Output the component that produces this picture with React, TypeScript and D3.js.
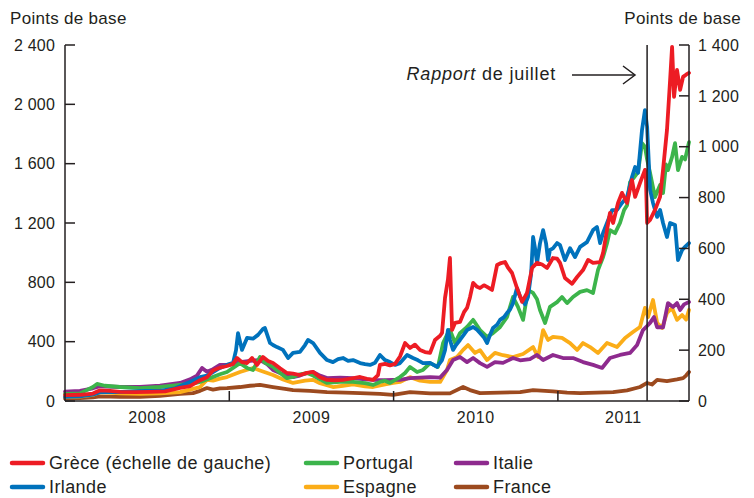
import React from 'react';
import * as d3 from 'd3';

// Spreads in basis points; time as decimal years
const greece: [number, number][] = [
  [2008.0, 40], [2008.091, 42], [2008.17, 50], [2008.213, 72], [2008.274, 68], [2008.335, 62], [2008.426, 60],
  [2008.517, 62], [2008.609, 65], [2008.7, 88], [2008.761, 100], [2008.822, 140], [2008.864, 160], [2008.901, 205],
  [2008.943, 225], [2008.986, 236], [2009.023, 250], [2009.047, 290], [2009.077, 262], [2009.108, 256], [2009.138, 290],
  [2009.169, 243], [2009.205, 297], [2009.236, 270], [2009.266, 256], [2009.309, 220], [2009.351, 189], [2009.388, 185],
  [2009.43, 175], [2009.473, 190], [2009.51, 196], [2009.552, 160], [2009.595, 142], [2009.643, 140], [2009.692, 142],
  [2009.735, 150], [2009.796, 162], [2009.838, 150], [2009.875, 142], [2009.905, 175], [2009.917, 243], [2009.948, 250],
  [2009.978, 240], [2010.009, 250], [2010.039, 300], [2010.07, 391], [2010.1, 357], [2010.13, 380], [2010.161, 344],
  [2010.191, 330], [2010.222, 324], [2010.252, 411], [2010.283, 440], [2010.295, 459], [2010.313, 695], [2010.331, 820],
  [2010.343, 964], [2010.356, 479], [2010.374, 526], [2010.404, 533], [2010.429, 600], [2010.447, 627], [2010.465, 700],
  [2010.484, 796], [2010.508, 770], [2010.526, 762], [2010.55, 780], [2010.569, 769], [2010.599, 749], [2010.63, 917],
  [2010.654, 930], [2010.678, 937], [2010.696, 900], [2010.721, 863], [2010.751, 762], [2010.782, 668], [2010.812, 728],
  [2010.843, 897], [2010.873, 931], [2010.904, 920], [2010.934, 897], [2010.97, 964], [2010.995, 960], [2011.013, 931],
  [2011.043, 829], [2011.086, 790], [2011.117, 836], [2011.153, 883], [2011.184, 951], [2011.214, 931], [2011.257, 937],
  [2011.275, 998], [2011.299, 1153], [2011.317, 1268], [2011.336, 1200], [2011.366, 1335], [2011.39, 1403],
  [2011.421, 1335], [2011.451, 1490], [2011.47, 1376], [2011.5, 1470], [2011.53, 1558], [2011.536, 1500],
  [2011.543, 1200], [2011.561, 1220], [2011.591, 1288], [2011.622, 1376], [2011.64, 1558], [2011.664, 1827],
  [2011.683, 2164], [2011.695, 2387], [2011.707, 2050], [2011.725, 2232], [2011.744, 2097], [2011.762, 2185],
  [2011.78, 2200], [2011.798, 2212],
];

const ireland: [number, number][] = [
  [2008.0, 16], [2008.091, 18], [2008.17, 25], [2008.213, 35], [2008.304, 35], [2008.396, 37], [2008.487, 40],
  [2008.578, 40], [2008.67, 50], [2008.761, 75], [2008.822, 94], [2008.864, 100], [2008.901, 114], [2008.943, 130],
  [2008.986, 142], [2009.023, 150], [2009.041, 200], [2009.053, 267], [2009.077, 201], [2009.108, 248], [2009.144, 245],
  [2009.175, 260], [2009.205, 283], [2009.217, 287], [2009.248, 228], [2009.266, 220], [2009.29, 212], [2009.327, 201],
  [2009.358, 169], [2009.388, 189], [2009.43, 193], [2009.461, 220], [2009.479, 240], [2009.51, 228], [2009.552, 189],
  [2009.595, 161], [2009.631, 153], [2009.662, 165], [2009.692, 169], [2009.723, 158], [2009.753, 161], [2009.796, 149],
  [2009.826, 145], [2009.857, 142], [2009.887, 150], [2009.917, 181], [2009.948, 161], [2009.978, 153], [2010.009, 142],
  [2010.039, 149], [2010.082, 181], [2010.118, 169], [2010.149, 160], [2010.179, 149], [2010.222, 150], [2010.264, 134],
  [2010.295, 161], [2010.313, 200], [2010.331, 280], [2010.343, 240], [2010.362, 201], [2010.38, 220], [2010.404, 240],
  [2010.429, 262], [2010.447, 279], [2010.484, 291], [2010.508, 280], [2010.526, 267], [2010.55, 250], [2010.569, 228],
  [2010.587, 260], [2010.605, 287], [2010.63, 300], [2010.648, 319], [2010.672, 330], [2010.69, 346], [2010.709, 360],
  [2010.727, 385], [2010.751, 444], [2010.77, 410], [2010.782, 397], [2010.8, 380], [2010.818, 409], [2010.837, 500],
  [2010.849, 645], [2010.861, 600], [2010.873, 543], [2010.891, 620], [2010.91, 672], [2010.928, 620], [2010.94, 554],
  [2010.952, 594], [2010.97, 600], [2010.995, 621], [2011.013, 613], [2011.043, 554], [2011.074, 601], [2011.104, 566],
  [2011.135, 606], [2011.177, 625], [2011.214, 672], [2011.238, 684], [2011.257, 621], [2011.275, 661], [2011.299, 700],
  [2011.33, 751], [2011.36, 751], [2011.39, 779], [2011.421, 802], [2011.451, 881], [2011.47, 920], [2011.488, 897],
  [2011.512, 1066], [2011.53, 1144], [2011.543, 1078], [2011.561, 830], [2011.579, 779], [2011.604, 724], [2011.622, 751],
  [2011.64, 700], [2011.664, 645], [2011.683, 700], [2011.713, 692], [2011.731, 554], [2011.756, 594], [2011.774, 606],
  [2011.798, 621],
];

const portugal: [number, number][] = [
  [2008.0, 28], [2008.091, 30], [2008.17, 55], [2008.195, 67], [2008.243, 60], [2008.335, 55], [2008.457, 51],
  [2008.578, 55], [2008.7, 63], [2008.791, 70], [2008.822, 75], [2008.883, 90], [2008.943, 105], [2008.986, 114],
  [2009.023, 130], [2009.065, 149], [2009.108, 130], [2009.144, 122], [2009.187, 173], [2009.217, 150], [2009.266, 134],
  [2009.309, 110], [2009.351, 90], [2009.388, 95], [2009.43, 105], [2009.473, 110], [2009.51, 100], [2009.552, 85],
  [2009.595, 71], [2009.674, 75], [2009.753, 75], [2009.826, 70], [2009.875, 63], [2009.917, 75], [2009.948, 80],
  [2009.978, 71], [2010.039, 94], [2010.07, 110], [2010.1, 134], [2010.143, 114], [2010.179, 122], [2010.222, 149],
  [2010.27, 134], [2010.301, 228], [2010.325, 260], [2010.343, 279], [2010.374, 228], [2010.404, 267], [2010.447, 291],
  [2010.484, 319], [2010.526, 279], [2010.569, 252], [2010.605, 267], [2010.648, 291], [2010.69, 330], [2010.727, 409],
  [2010.757, 370], [2010.788, 319], [2010.818, 436], [2010.849, 425], [2010.873, 400], [2010.891, 358], [2010.922, 307],
  [2010.952, 370], [2010.995, 389], [2011.025, 409], [2011.056, 385], [2011.092, 409], [2011.135, 429], [2011.177, 436],
  [2011.214, 425], [2011.244, 515], [2011.275, 566], [2011.299, 620], [2011.317, 672], [2011.348, 660], [2011.378, 700],
  [2011.403, 751], [2011.421, 770], [2011.439, 860], [2011.464, 880], [2011.488, 900], [2011.512, 1014], [2011.53, 1000],
  [2011.543, 950], [2011.561, 897], [2011.591, 802], [2011.622, 850], [2011.64, 818], [2011.658, 930], [2011.67, 908],
  [2011.695, 960], [2011.713, 1014], [2011.731, 908], [2011.756, 960], [2011.774, 950], [2011.798, 1018],
];

const italy: [number, number][] = [
  [2008.0, 37], [2008.091, 40], [2008.17, 50], [2008.213, 58], [2008.335, 55], [2008.457, 55], [2008.578, 60],
  [2008.7, 71], [2008.761, 85], [2008.803, 100], [2008.834, 130], [2008.864, 115], [2008.901, 125], [2008.943, 142],
  [2008.986, 142], [2009.023, 145], [2009.065, 153], [2009.126, 158], [2009.187, 161], [2009.23, 145], [2009.266, 122],
  [2009.309, 110], [2009.351, 100], [2009.388, 94], [2009.43, 100], [2009.473, 110], [2009.51, 114], [2009.552, 100],
  [2009.595, 90], [2009.674, 92], [2009.753, 90], [2009.826, 85], [2009.875, 83], [2009.948, 82], [2009.997, 83],
  [2010.039, 83], [2010.1, 90], [2010.161, 92], [2010.222, 94], [2010.283, 92], [2010.325, 122], [2010.362, 161],
  [2010.404, 173], [2010.447, 153], [2010.484, 169], [2010.526, 149], [2010.569, 134], [2010.617, 153], [2010.666, 150],
  [2010.727, 169], [2010.77, 160], [2010.83, 165], [2010.873, 181], [2010.91, 161], [2010.97, 181], [2011.031, 169],
  [2011.092, 169], [2011.153, 153], [2011.214, 142], [2011.269, 130], [2011.317, 169], [2011.378, 181], [2011.439, 189],
  [2011.482, 220], [2011.518, 279], [2011.543, 295], [2011.561, 307], [2011.585, 330], [2011.604, 290], [2011.64, 290],
  [2011.67, 385], [2011.701, 370], [2011.725, 385], [2011.744, 358], [2011.768, 380], [2011.798, 389],
];

const spain: [number, number][] = [
  [2008.0, 15], [2008.091, 17], [2008.17, 24], [2008.213, 35], [2008.335, 30], [2008.457, 28], [2008.578, 30],
  [2008.7, 35], [2008.791, 50], [2008.822, 55], [2008.864, 83], [2008.901, 80], [2008.943, 88], [2008.986, 94],
  [2009.065, 114], [2009.144, 130], [2009.187, 120], [2009.266, 102], [2009.327, 85], [2009.388, 71], [2009.461, 80],
  [2009.51, 83], [2009.552, 70], [2009.631, 55], [2009.692, 60], [2009.753, 65], [2009.826, 58], [2009.875, 55],
  [2009.948, 65], [2009.997, 71], [2010.039, 75], [2010.1, 94], [2010.161, 80], [2010.222, 75], [2010.283, 75],
  [2010.325, 122], [2010.343, 161], [2010.386, 173], [2010.423, 201], [2010.453, 220], [2010.496, 189], [2010.526, 200],
  [2010.569, 161], [2010.617, 189], [2010.666, 180], [2010.727, 173], [2010.788, 185], [2010.849, 212], [2010.879, 173],
  [2010.91, 279], [2010.94, 240], [2010.97, 252], [2011.025, 248], [2011.074, 228], [2011.117, 201], [2011.153, 228],
  [2011.196, 212], [2011.244, 189], [2011.299, 228], [2011.36, 212], [2011.409, 248], [2011.457, 271], [2011.5, 291],
  [2011.53, 366], [2011.549, 330], [2011.579, 397], [2011.604, 307], [2011.634, 287], [2011.664, 346], [2011.695, 366],
  [2011.725, 319], [2011.756, 338], [2011.78, 320], [2011.798, 358],
];

const france: [number, number][] = [
  [2008.0, 10], [2008.091, 11], [2008.17, 14], [2008.213, 18], [2008.335, 16], [2008.457, 16], [2008.578, 20],
  [2008.7, 28], [2008.779, 31], [2008.822, 40], [2008.864, 51], [2008.901, 45], [2008.943, 50], [2008.986, 51],
  [2009.065, 55], [2009.126, 60], [2009.187, 63], [2009.266, 55], [2009.339, 48], [2009.388, 43], [2009.491, 40],
  [2009.595, 35], [2009.704, 33], [2009.796, 31], [2009.917, 28], [2009.997, 24], [2010.1, 35], [2010.222, 30],
  [2010.343, 30], [2010.423, 55], [2010.465, 43], [2010.526, 31], [2010.648, 33], [2010.77, 35], [2010.849, 43],
  [2010.97, 38], [2011.056, 33], [2011.135, 31], [2011.238, 33], [2011.336, 35], [2011.421, 42], [2011.5, 55],
  [2011.543, 71], [2011.573, 65], [2011.604, 83], [2011.664, 78], [2011.725, 85], [2011.762, 90], [2011.78, 100],
  [2011.798, 114],
];

const leftTicks = [0, 400, 800, 1200, 1600, 2000, 2400];
const rightTicks = [0, 200, 400, 600, 800, 1000, 1200, 1400];
const yearStarts = [2008, 2009, 2010, 2011];
const reportDate = 2011.543;

const series = [
  { name: 'France', data: france, color: '#9c4a1f', axis: 'right' },
  { name: 'Espagne', data: spain, color: '#fbad18', axis: 'right' },
  { name: 'Italie', data: italy, color: '#8e2a8e', axis: 'right' },
  { name: 'Portugal', data: portugal, color: '#3cb44b', axis: 'right' },
  { name: 'Irlande', data: ireland, color: '#0072bc', axis: 'right' },
  { name: 'Grèce (échelle de gauche)', data: greece, color: '#ed1c24', axis: 'left' },
];

const legendRows = [
  ['Grèce (échelle de gauche)', 'Portugal', 'Italie'],
  ['Irlande', 'Espagne', 'France'],
];

const W = 754;
const H = 498;
const M = { left: 65, right: 689, top: 45, bottom: 401 };
const FONT = '"Liberation Sans", Arial, Helvetica, sans-serif';
const INK = '#231f20';

const fmt = d3.formatLocale({ decimal: ',', thousands: ' ', grouping: [3], currency: ['', ''] }).format(',');

export default function App() {
  const x = d3.scaleLinear().domain([2008, 2011.798]).range([M.left, M.right]);
  const yL = d3.scaleLinear().domain([0, 2400]).range([M.bottom, M.top]);
  const yR = d3.scaleLinear().domain([0, 1400]).range([M.bottom, M.top]);

  const mkLine = (axis: string) =>
    d3
      .line<[number, number]>()
      .x((d) => x(d[0]))
      .y((d) => (axis === 'left' ? yL(d[1]) : yR(d[1])));

  const domainEnd = x.domain()[1];
  const colX = [12, 306, 456];
  const rowY = [463, 487];
  const colorOf = (n: string) => series.find((s) => s.name === n)!.color;

  return (
    <svg width={W} height={H} style={{ position: 'absolute', left: 0, top: 0, background: '#fff' }} fontFamily={FONT}>
      <rect x={0} y={0} width={W} height={H} fill="#fff" />
      {/* axis titles */}
      <text x={10} y={24} fontSize={17} letterSpacing={0.3} fill={INK}>Points de base</text>
      <text x={741} y={24} fontSize={17} letterSpacing={0.3} fill={INK} textAnchor="end">Points de base</text>

      {/* series */}
      {series.map((s) => (
        <path
          key={s.name}
          d={mkLine(s.axis)(s.data) || ''}
          fill="none"
          stroke={s.color}
          strokeWidth={3.8}
          strokeLinejoin="round"
          strokeLinecap="round"
        />
      ))}

      {/* axes */}
      <g stroke={INK} strokeWidth={1.5} fill="none">
        <line x1={M.left} x2={M.left} y1={M.top} y2={M.bottom} />
        <line x1={M.right} x2={M.right} y1={M.top} y2={M.bottom} />
        <line x1={M.left} x2={M.right} y1={M.bottom} y2={M.bottom} />
        {leftTicks.map((t) => (
          <line key={'lt' + t} x1={M.left} x2={M.left + 10} y1={yL(t)} y2={yL(t)} />
        ))}
        {rightTicks.map((t) => (
          <line key={'rt' + t} x1={M.right - 10} x2={M.right} y1={yR(t)} y2={yR(t)} />
        ))}
        {yearStarts.slice(1).map((yv) => (
          <line key={'xt' + yv} x1={x(yv)} x2={x(yv)} y1={M.bottom} y2={M.bottom - 10} />
        ))}
        <line x1={x(reportDate)} x2={x(reportDate)} y1={M.top} y2={M.bottom} />
      </g>

      {leftTicks.map((t) => (
        <text key={'ll' + t} x={55} y={yL(t)} dy="0.36em" fontSize={16} letterSpacing={0.2} fill={INK} textAnchor="end">
          {fmt(t)}
        </text>
      ))}
      {rightTicks.map((t) => (
        <text key={'rl' + t} x={698} y={yR(t)} dy="0.36em" fontSize={16} letterSpacing={0.2} fill={INK}>
          {fmt(t)}
        </text>
      ))}
      {yearStarts.map((yv) => {
        const a = Math.max(yv, 2008);
        const b = Math.min(yv + 1, domainEnd);
        return (
          <text key={'yl' + yv} x={(x(a) + x(b)) / 2} y={423} fontSize={16} letterSpacing={0.6} fill={INK} textAnchor="middle">
            {yv}
          </text>
        );
      })}

      {/* annotation */}
      <text x={556} y={80} fontSize={18} letterSpacing={0.8} fill={INK} textAnchor="end">
        <tspan fontStyle="italic">Rapport</tspan> de juillet
      </text>
      <g stroke={INK} strokeWidth={1.5} fill="none">
        <line x1={572} x2={635} y1={75} y2={75} />
        <polyline points="623,66 635,75 623,84" />
      </g>

      {/* legend */}
      {legendRows.map((row, ri) =>
        row.map((name, ci) => (
          <g key={name}>
            <line x1={colX[ci]} x2={colX[ci] + 31} y1={rowY[ri]} y2={rowY[ri]} stroke={colorOf(name)} strokeWidth={4.5} strokeLinecap="round" />
            <text x={colX[ci] + 37} y={rowY[ri]} dy="0.36em" fontSize={18} letterSpacing={0.4} fill={INK}>
              {name}
            </text>
          </g>
        ))
      )}
    </svg>
  );
}
